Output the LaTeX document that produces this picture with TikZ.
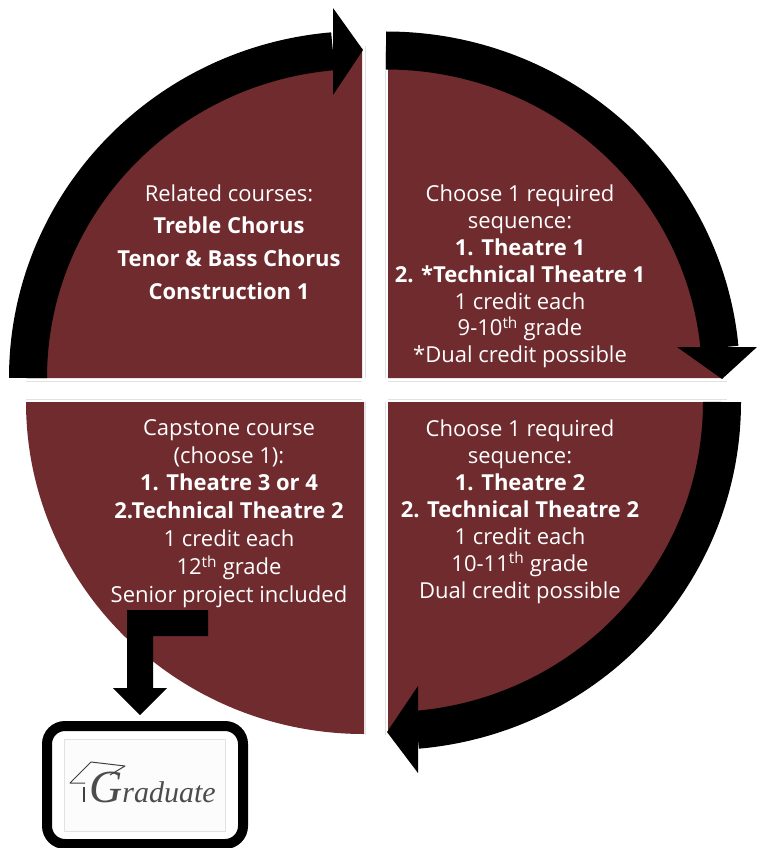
\documentclass[tikz,border=0pt]{standalone}
\usepackage{fontspec}
\setmainfont{Open Sans}
\newfontfamily\gradfont{Liberation Serif}
\definecolor{maroon}{HTML}{6F2B2E}
\definecolor{faint}{HTML}{E2E2E2}
\tikzset{
  pie/.style={fill=maroon,draw=none},
  ring/.style={draw=black,line width=38pt,line cap=butt},
  head/.style={fill=black,draw=none},
  label/.style={text=white,align=center,inner sep=0pt,font=\fontsize{22}{27.4}\selectfont},
  rule/.style={draw=faint,line width=0.6pt}
}
\begin{document}
\begin{tikzpicture}[x=1pt,y=1pt,yscale=-1]
\useasboundingbox (0,0) rectangle (756,848);
\fill[white] (0,0) rectangle (756,848);
% faint frames
\draw[rule] (26,381) -- (362,381);
\draw[rule] (388,381) -- (727,381);
\draw[rule] (26,399) -- (362,399);
\draw[rule] (388,399) -- (727,399);
\draw[rule] (365,46) -- (365,378);
\draw[rule] (365,402) -- (365,735);
\draw[rule] (385,46) -- (385,378);
\draw[rule] (385,402) -- (385,735);
% quadrants
\fill[pie] (362,378) -- (26,378) arc[start angle=180,end angle=270,x radius=336pt,y radius=330pt] -- cycle;
\fill[pie] (388,378) -- (388,48) arc[start angle=270,end angle=360,x radius=335pt,y radius=330pt] -- cycle;
\fill[pie] (388,402) -- (723,402) arc[start angle=0,end angle=90,x radius=335pt,y radius=330pt] -- cycle;
\fill[pie] (364,402) -- (364,734) arc[start angle=90,end angle=180,x radius=338pt,y radius=332pt] -- cycle;
% ring arrows
\coordinate (tlS) at (28,378);
\coordinate (trS) at (386,50.5);
\coordinate (brS) at (722,402);
\draw[ring] (tlS) arc[start angle=180,end angle=265,x radius=334pt,y radius=328pt];
\fill[head] (333,8) -- (363,50) -- (333,95) -- cycle;
\draw[ring] (trS) arc[start angle=270,end angle=354.6,x radius=335pt,y radius=328pt];
\fill[head] (677,347) -- (757,347) -- (722,379) -- cycle;
\draw[ring] (brS) arc[start angle=0,end angle=85,x radius=334pt,y radius=329pt];
\fill[head] (418,686) -- (418,773) -- (387,732) -- cycle;
% quadrant texts
\node[label] (related) at (229,193) {Related courses:};
\node[label,font=\fontsize{22}{33}\selectfont\bfseries,anchor=north] (relatedList) at (229,217) {Treble Chorus\\Tenor \& Bass Chorus\\Construction 1};
\node[label,anchor=north,font=\fontsize{22}{26.9}\selectfont] (seqOne) at (520,184.5) {Choose 1 required\\sequence:\\\textbf{1. Theatre 1}\\\textbf{2. *Technical Theatre 1}\\1 credit each\\9-10\textsuperscript{th} grade\\*Dual credit possible};
\node[label,anchor=north,font=\fontsize{22}{26.9}\selectfont] (seqTwo) at (520,420) {Choose 1 required\\sequence:\\\textbf{1. Theatre 2}\\\textbf{2. Technical Theatre 2}\\1 credit each\\10-11\textsuperscript{th} grade\\Dual credit possible};
\node[label,anchor=north,font=\fontsize{22}{27.9}\selectfont] (capstone) at (229,419) {Capstone course\\(choose 1):\\\textbf{1. Theatre 3 or 4}\\\textbf{2.Technical Theatre 2}\\1 credit each\\12\textsuperscript{th} grade\\Senior project included};
% graduate box
\node[draw=black,line width=10pt,rounded corners=18pt,minimum width=196pt,minimum height=118pt,inner sep=0pt] (box) at (145,785) {};
\node[fill=white!99!black,draw=faint,line width=0.6pt,minimum width=161pt,minimum height=92pt,inner sep=0pt] (photo) at (144.5,785) {};
\node[text=black!70,inner sep=0pt,anchor=base west,font=\gradfont\itshape\fontsize{30}{30}\selectfont] (grad) at (89,802) {{\fontsize{46}{46}\selectfont G}raduate};
\draw[black!75,line width=1pt,line join=round] (85,783) -- (70,783) -- (91,762) -- (125,766) -- (110,775);
\draw[black!75,line width=1.2pt] (84,787) -- (84,802);
% elbow arrow to the graduate box
\fill[head] (127,610) -- (208,610) -- (208,636) -- (153,636) -- (153,688) -- (167,688) -- (140,715) -- (113,688) -- (127,688) -- cycle;
\end{tikzpicture}
\end{document}
